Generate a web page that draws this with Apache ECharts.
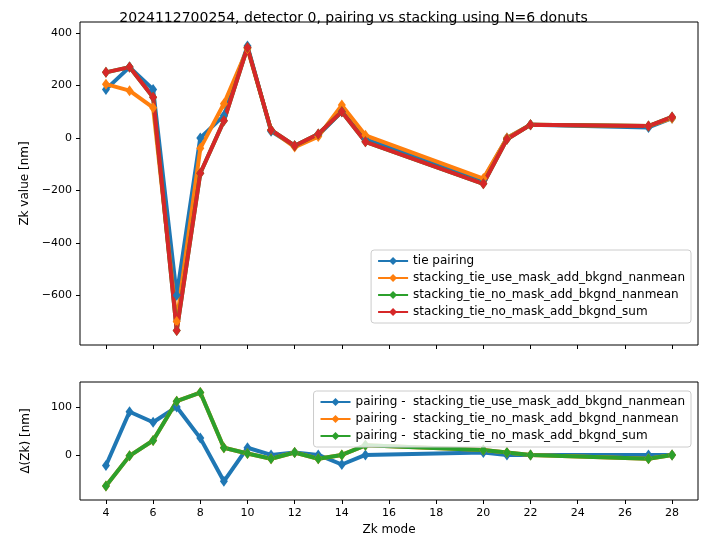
<!DOCTYPE html><html><head><meta charset="utf-8"><script src="https://cdn.jsdelivr.net/npm/echarts@6/dist/echarts.min.js"></script></head><body style="margin:0"><div id="c" style="width:707px;height:545px"></div><script>
const modes=[4,5,6,7,8,9,10,11,12,13,14,15,20,21,22,27,28];
const tiePairing=[185,270,185,-600,0,85,350,25,-30,10,100,-5,-160,0,50,40,75];
const stackUseMaskNanmean=[205,180,115,-700,-40,130,340,30,-35,5,125,10,-155,0,50,45,75];
const stackNoMaskNanmean=[250,270,155,-735,-135,65,345,30,-30,15,100,-15,-175,-5,50,45,80];
const stackNoMaskSum=[250,270,155,-735,-135,65,345,30,-30,15,100,-15,-175,-5,50,45,80];
const diffUseMask=[-22,90,68,100,35,-55,15,0,5,0,-20,0,5,0,0,0,0];
const diffNoMaskNanmean=[-65,-2,30,112,130,15,3,-8,5,-8,0,20,10,5,0,-8,0];
const diffNoMaskSum=[-65,-2,30,112,130,15,3,-8,5,-8,0,20,10,5,0,-8,0];
const xTicks=[4,6,8,10,12,14,16,18,20,22,24,26,28];
const topYTicks=[-600,-400,-200,0,200,400];
const botYTicks=[0,100];
const topNames=['tie pairing','stacking_tie_use_mask_add_bkgnd_nanmean','stacking_tie_no_mask_add_bkgnd_nanmean','stacking_tie_no_mask_add_bkgnd_sum'];
const botNames=['pairing -  stacking_tie_use_mask_add_bkgnd_nanmean','pairing -  stacking_tie_no_mask_add_bkgnd_nanmean','pairing -  stacking_tie_no_mask_add_bkgnd_sum'];
const colors=['#1f77b4','#ff7f0e','#2ca02c','#d62728'];
const F='DejaVu Sans';
const pts=a=>a.map((v,i)=>[modes[i],v]);
function ser(name,data,c,xi){return {name,type:'line',z:2,data:pts(data),xAxisIndex:xi,yAxisIndex:xi,lineStyle:{width:4,color:c},itemStyle:{color:c},symbol:'diamond',symbolSize:[8,11],showSymbol:true,animation:false};}
const ax=(gi,show)=>({type:'value',gridIndex:gi,min:2.9,max:29.1,axisLine:{show:false,onZero:false},axisTick:{show:true,length:4,lineStyle:{color:'#000'},customValues:xTicks},axisLabel:{show:show,color:'#000',fontSize:11,fontFamily:F,customValues:xTicks},splitLine:{show:false},name:show?'Zk mode':'',nameLocation:'middle',nameGap:24,nameTextStyle:{color:'#000',fontSize:12,fontFamily:F}});
const ya=(gi,min,max,ticks,name,gap)=>({type:'value',gridIndex:gi,min,max,axisLine:{show:false,onZero:false},axisTick:{show:true,length:4,lineStyle:{color:'#000'},customValues:ticks},axisLabel:{color:'#000',fontSize:11,fontFamily:F,customValues:ticks,formatter:v=>String(v).replace('-','\u2212')},splitLine:{show:false},name,nameLocation:'middle',nameGap:gap,nameTextStyle:{color:'#000',fontSize:12,fontFamily:F}});
const leg=(data,top,right)=>({data,right,top,orient:'vertical',z:10,itemGap:5,itemWidth:30,itemHeight:10,textStyle:{fontSize:12,color:'#000',fontFamily:F},borderColor:'#ccc',borderWidth:1,borderRadius:3,padding:[5,6],backgroundColor:'rgba(255,255,255,0.8)'});
const ch=echarts.init(document.getElementById('c'));
ch.setOption({
title:{text:'2024112700254, detector 0, pairing vs stacking using N=6 donuts',left:'center',top:6,textStyle:{fontSize:14,fontWeight:'normal',color:'#000',fontFamily:F}},
grid:[{left:80,right:9,top:22,height:323,show:true,borderColor:'#000',borderWidth:1},{left:80,right:9,top:382,height:118,show:true,borderColor:'#000',borderWidth:1}],
xAxis:[ax(0,false),ax(1,true)],
yAxis:[ya(0,-790,442,topYTicks,'Zk value [nm]',48),ya(1,-94,152,botYTicks,'Δ(Zk) [nm]',48)],
legend:[leg(topNames,250,16),leg(botNames,391,16)],
series:[ser(topNames[0],tiePairing,colors[0],0),ser(topNames[1],stackUseMaskNanmean,colors[1],0),ser(topNames[2],stackNoMaskNanmean,colors[2],0),ser(topNames[3],stackNoMaskSum,colors[3],0),
ser(botNames[0],diffUseMask,colors[0],1),ser(botNames[1],diffNoMaskNanmean,colors[1],1),ser(botNames[2],diffNoMaskSum,colors[2],1)]
});
</script></body></html>
